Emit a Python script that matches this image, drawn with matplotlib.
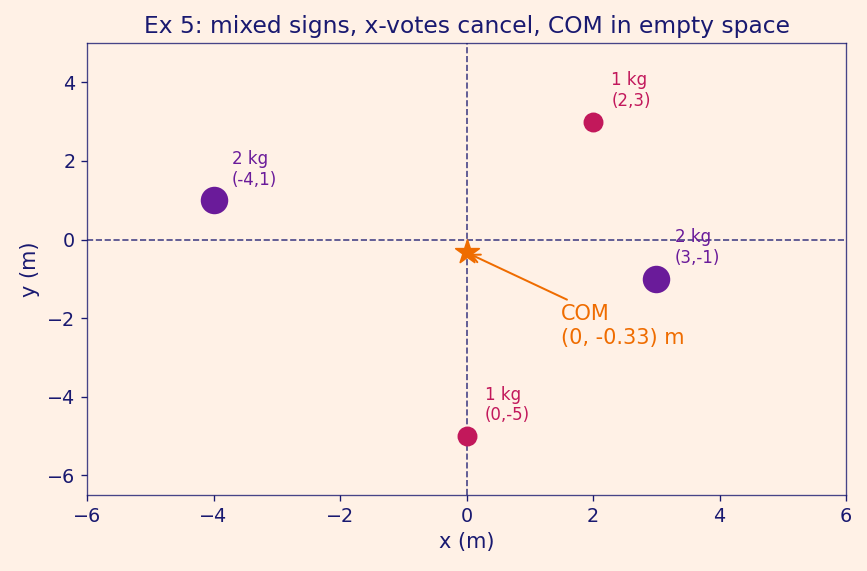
import matplotlib
matplotlib.use("Agg")
import matplotlib.pyplot as plt

masses = [2, 1, 2, 1]
xs = [-4, 2, 3, 0]
ys = [1, 3, -1, -5]
labels = ["2 kg\n(-4,1)", "1 kg\n(2,3)", "2 kg\n(3,-1)", "1 kg\n(0,-5)"]
com = (0.0, -0.33)

bg = "#FFF1E6"
navy = "#191970"
col2 = "#6A1B9A"
col1 = "#C2185B"
orange = "#EF6C00"

fig = plt.figure(figsize=(867/120, 571/120), dpi=120, facecolor=bg)
ax = fig.add_axes([87/867, 1-495/571, (846-87)/867, (495-43)/571])
ax.set_facecolor(bg)

ax.axhline(0, color=navy, lw=1, ls="--", alpha=0.8, zorder=1)
ax.axvline(0, color=navy, lw=1, ls="--", alpha=0.8, zorder=1)

for m, x, y, lab in zip(masses, xs, ys, labels):
    c = col2 if m == 2 else col1
    ax.scatter([x], [y], s=120 * m, color=c, zorder=3)
    ax.annotate(lab, (x, y), xytext=(11, 7), textcoords="offset points",
                color=c, fontsize=10, ha="left", va="bottom")

ax.scatter([com[0]], [com[1]], marker="*", s=220, color=orange, zorder=4)
ax.annotate(f"COM\n({com[0]:g}, {com[1]:.2f}) m", xy=com, xytext=(1.5, -2.2),
            color=orange, fontsize=12.5, ha="left", va="center",
            arrowprops=dict(arrowstyle="->", color=orange, lw=1.2))

ax.set_xlim(-6, 6)
ax.set_ylim(-6.5, 5)
ax.set_xlabel("x (m)", color=navy, fontsize=12.5)
ax.set_ylabel("y (m)", color=navy, fontsize=12.5)
ax.set_title("Ex 5: mixed signs, x-votes cancel, COM in empty space", color=navy, fontsize=14)
for s in ax.spines.values():
    s.set_color(navy)
    s.set_alpha(0.8)
ax.tick_params(colors=navy, labelsize=11.5)

fig.savefig("out.png", dpi=120, facecolor=bg)
